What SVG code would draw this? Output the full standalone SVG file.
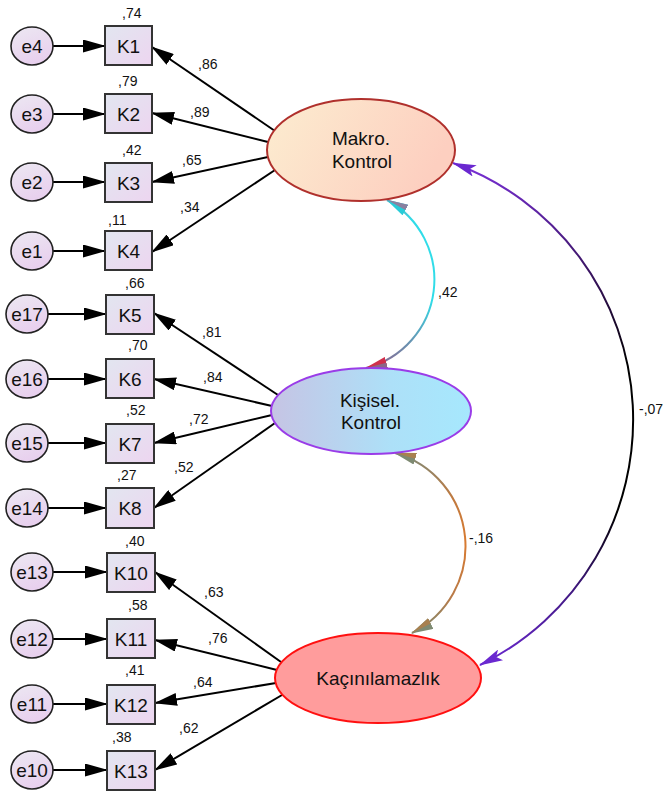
<svg xmlns="http://www.w3.org/2000/svg" width="665" height="794" viewBox="0 0 665 794">
<style>
text{font-family:"Liberation Sans",Arial,sans-serif;fill:#111}
.lbl{font-size:19px;text-anchor:middle}
.num{font-size:14px}
.box{fill:url(#gBox);stroke:#333;stroke-width:2}
.err{fill:url(#gErr);stroke:#222;stroke-width:1.6}
.ln{stroke:#000;stroke-width:2;fill:none;marker-end:url(#aBlk)}
.eln{stroke:#000;stroke-width:1.8;fill:none;marker-end:url(#aBlk)}
.cov{fill:none;stroke-width:2}
</style>
<defs>
<linearGradient id="gBox" x1="0" y1="0" x2="1" y2="1"><stop offset="0" stop-color="#e2e6f0"/><stop offset="1" stop-color="#edd5f0"/></linearGradient>
<linearGradient id="gErr" x1="0" y1="0" x2="0.4" y2="1"><stop offset="0" stop-color="#ece8f2"/><stop offset="1" stop-color="#e8d0ee"/></linearGradient>
<linearGradient id="gMak" x1="0" y1="0" x2="1" y2="0.3"><stop offset="0" stop-color="#fcedd0"/><stop offset="1" stop-color="#fdcfc0"/></linearGradient>
<linearGradient id="gKis" x1="0" y1="0" x2="1" y2="0"><stop offset="0" stop-color="#c6c4e4"/><stop offset="0.6" stop-color="#ade0f8"/><stop offset="1" stop-color="#a6e8fd"/></linearGradient>
<linearGradient id="g42" gradientUnits="userSpaceOnUse" x1="0" y1="200" x2="0" y2="368"><stop offset="0" stop-color="#6aa6b8"/><stop offset="0.12" stop-color="#30dce8"/><stop offset="0.6" stop-color="#30dce8"/><stop offset="1" stop-color="#8a6690"/></linearGradient>
<linearGradient id="g16" gradientUnits="userSpaceOnUse" x1="0" y1="453" x2="0" y2="633"><stop offset="0" stop-color="#7e8a78"/><stop offset="0.25" stop-color="#c07a40"/><stop offset="0.5" stop-color="#d87a30"/><stop offset="0.8" stop-color="#b87a48"/><stop offset="1" stop-color="#7e8a70"/></linearGradient>
<linearGradient id="g07" gradientUnits="userSpaceOnUse" x1="0" y1="163" x2="0" y2="665"><stop offset="0" stop-color="#7a30d8"/><stop offset="0.25" stop-color="#301050"/><stop offset="0.4" stop-color="#000"/><stop offset="0.7" stop-color="#000"/><stop offset="0.85" stop-color="#401880"/><stop offset="1" stop-color="#6a28d0"/></linearGradient>
<marker id="aBlk" markerUnits="userSpaceOnUse" markerWidth="23" markerHeight="13" viewBox="0 0 23 13" refX="22" refY="6.5" orient="auto"><path d="M0,0 L23,6.5 L0,13 z" fill="#000"/></marker>
<marker id="aPur" markerUnits="userSpaceOnUse" markerWidth="24" markerHeight="12" viewBox="0 0 24 12" refX="23" refY="6" orient="auto-start-reverse"><path d="M0,0 L24,6 L0,12 L5,6 z" fill="#6a28d0"/></marker>
<marker id="aCyan" markerUnits="userSpaceOnUse" markerWidth="22" markerHeight="12" viewBox="0 0 22 12" refX="21" refY="6" orient="auto-start-reverse"><path d="M0,0 L22,6 L0,12 z" fill="#28ccd8"/><path d="M0,12 L22,6 L0,6 z" fill="#8a80a0"/></marker>
<marker id="aRed" markerUnits="userSpaceOnUse" markerWidth="22" markerHeight="12" viewBox="0 0 22 12" refX="21" refY="6" orient="auto-start-reverse"><path d="M0,0 L22,6 L0,12 z" fill="#d0304c"/><path d="M0,0 L22,6 L0,6 z" fill="#8a6888"/></marker>
<marker id="aGrn" markerUnits="userSpaceOnUse" markerWidth="22" markerHeight="12" viewBox="0 0 22 12" refX="21" refY="6" orient="auto-start-reverse"><path d="M0,0 L22,6 L0,12 z" fill="#7e8a72"/><path d="M0,6 L22,6 L0,12 z" fill="#a88050"/></marker>
</defs>
<rect width="665" height="794" fill="#fff"/>

<g id="connectors">
<!-- error arrows -->
<line class="eln" x1="53" y1="46" x2="105" y2="46"/>
<line class="eln" x1="53" y1="114" x2="105" y2="114"/>
<line class="eln" x1="53" y1="182" x2="105" y2="182"/>
<line class="eln" x1="53" y1="251" x2="105" y2="251"/>
<line class="eln" x1="48" y1="314" x2="106" y2="314"/>
<line class="eln" x1="48" y1="379" x2="106" y2="379"/>
<line class="eln" x1="48" y1="443" x2="106" y2="443"/>
<line class="eln" x1="48" y1="508" x2="106" y2="508"/>
<line class="eln" x1="53" y1="572" x2="107" y2="572"/>
<line class="eln" x1="53" y1="639" x2="107" y2="639"/>
<line class="eln" x1="53" y1="704" x2="107" y2="704"/>
<line class="eln" x1="53" y1="770" x2="107" y2="770"/>
<!-- loadings -->
<line class="ln" x1="275" y1="131" x2="152" y2="47"/>
<line class="ln" x1="268" y1="142" x2="152" y2="113"/>
<line class="ln" x1="268" y1="157" x2="152" y2="182"/>
<line class="ln" x1="275" y1="170" x2="152" y2="252"/>
<line class="ln" x1="278" y1="395" x2="154" y2="313"/>
<line class="ln" x1="272" y1="406" x2="154" y2="379"/>
<line class="ln" x1="272" y1="415" x2="154" y2="443"/>
<line class="ln" x1="275" y1="423" x2="154" y2="508"/>
<line class="ln" x1="281" y1="662" x2="155" y2="572"/>
<line class="ln" x1="277" y1="670" x2="155" y2="640"/>
<line class="ln" x1="276" y1="683" x2="155" y2="703"/>
<line class="ln" x1="282" y1="695" x2="155" y2="770"/>
<!-- covariances -->
<path class="cov" d="M387,200 A91,91 0 0 1 366,368" stroke="url(#g42)" marker-start="url(#aCyan)" marker-end="url(#aRed)"/>
<path class="cov" d="M395,453 A97,97 0 0 1 412,633" stroke="url(#g16)" marker-start="url(#aGrn)" marker-end="url(#aGrn)"/>
<path class="cov" d="M453,163 A273,273 0 0 1 480,665" stroke="url(#g07)" marker-start="url(#aPur)" marker-end="url(#aPur)"/>
<!-- loading labels -->
<text class="num" x="198" y="69">,86</text>
<text class="num" x="190" y="117">,89</text>
<text class="num" x="182" y="165">,65</text>
<text class="num" x="180" y="212">,34</text>
<text class="num" x="202" y="337">,81</text>
<text class="num" x="203" y="382">,84</text>
<text class="num" x="189" y="424">,72</text>
<text class="num" x="174" y="472">,52</text>
<text class="num" x="204" y="597">,63</text>
<text class="num" x="208" y="643">,76</text>
<text class="num" x="193" y="687">,64</text>
<text class="num" x="179" y="733">,62</text>
<text class="num" x="438" y="297">,42</text>
<text class="num" x="469" y="543">-,16</text>
<text class="num" x="639" y="414">-,07</text>
</g>

<g id="e4"><ellipse class="err" cx="32" cy="46" rx="21" ry="19"/><text class="lbl" x="32" y="53">e4</text></g>
<g id="e3"><ellipse class="err" cx="32" cy="114" rx="21" ry="19"/><text class="lbl" x="32" y="121">e3</text></g>
<g id="e2"><ellipse class="err" cx="32" cy="182" rx="21" ry="19"/><text class="lbl" x="32" y="189">e2</text></g>
<g id="e1"><ellipse class="err" cx="32" cy="251" rx="21" ry="19"/><text class="lbl" x="32" y="258">e1</text></g>
<g id="e17"><ellipse class="err" cx="27" cy="314" rx="21" ry="19"/><text class="lbl" x="27" y="321">e17</text></g>
<g id="e16"><ellipse class="err" cx="27" cy="379" rx="21" ry="19"/><text class="lbl" x="27" y="386">e16</text></g>
<g id="e15"><ellipse class="err" cx="27" cy="443" rx="21" ry="19"/><text class="lbl" x="27" y="450">e15</text></g>
<g id="e14"><ellipse class="err" cx="27" cy="508" rx="21" ry="19"/><text class="lbl" x="27" y="515">e14</text></g>
<g id="e13"><ellipse class="err" cx="32" cy="572" rx="21" ry="19"/><text class="lbl" x="32" y="579">e13</text></g>
<g id="e12"><ellipse class="err" cx="32" cy="639" rx="21" ry="19"/><text class="lbl" x="32" y="646">e12</text></g>
<g id="e11"><ellipse class="err" cx="32" cy="704" rx="21" ry="19"/><text class="lbl" x="32" y="711">e11</text></g>
<g id="e10"><ellipse class="err" cx="32" cy="770" rx="21" ry="19"/><text class="lbl" x="32" y="777">e10</text></g>

<g id="K1"><rect class="box" x="105" y="26" width="47" height="39"/><text class="lbl" x="128.5" y="52.5">K1</text><text class="num" x="122" y="18">,74</text></g>
<g id="K2"><rect class="box" x="105" y="94" width="47" height="39"/><text class="lbl" x="128.5" y="120.5">K2</text><text class="num" x="118" y="86">,79</text></g>
<g id="K3"><rect class="box" x="105" y="163" width="47" height="39"/><text class="lbl" x="128.5" y="189.5">K3</text><text class="num" x="122" y="155">,42</text></g>
<g id="K4"><rect class="box" x="105" y="231" width="47" height="39"/><text class="lbl" x="128.5" y="257.5">K4</text><text class="num" x="108" y="225">,11</text></g>
<g id="K5"><rect class="box" x="106" y="295" width="48" height="39"/><text class="lbl" x="130" y="321.5">K5</text><text class="num" x="125" y="288">,66</text></g>
<g id="K6"><rect class="box" x="106" y="359" width="48" height="39"/><text class="lbl" x="130" y="385.5">K6</text><text class="num" x="128" y="350">,70</text></g>
<g id="K7"><rect class="box" x="106" y="424" width="48" height="39"/><text class="lbl" x="130" y="450.5">K7</text><text class="num" x="126" y="415">,52</text></g>
<g id="K8"><rect class="box" x="106" y="488" width="48" height="40"/><text class="lbl" x="130" y="515">K8</text><text class="num" x="117" y="480">,27</text></g>
<g id="K10"><rect class="box" x="107" y="553" width="48" height="39"/><text class="lbl" x="131" y="579.5">K10</text><text class="num" x="125" y="546">,40</text></g>
<g id="K11"><rect class="box" x="107" y="619" width="48" height="39"/><text class="lbl" x="131" y="645.5">K11</text><text class="num" x="128" y="610">,58</text></g>
<g id="K12"><rect class="box" x="107" y="685" width="48" height="39"/><text class="lbl" x="131" y="711.5">K12</text><text class="num" x="125" y="675">,41</text></g>
<g id="K13"><rect class="box" x="107" y="751" width="48" height="39"/><text class="lbl" x="131" y="777.5">K13</text><text class="num" x="112" y="742">,38</text></g>

<g id="Makro"><ellipse cx="361" cy="150" rx="94" ry="51" fill="url(#gMak)" stroke="#b0302c" stroke-width="2"/><text class="lbl" x="361" y="145">Makro.</text><text class="lbl" x="362" y="168">Kontrol</text></g>
<g id="Kisisel"><ellipse cx="371" cy="411" rx="100" ry="43" fill="url(#gKis)" stroke="#9a3ce8" stroke-width="2"/><text class="lbl" x="370" y="407">Kişisel.</text><text class="lbl" x="371" y="429">Kontrol</text></g>
<g id="Kacinilamazlik"><ellipse cx="378" cy="678" rx="103" ry="45" fill="#ff9c9c" stroke="#ff1010" stroke-width="2"/><text class="lbl" x="378" y="685">Kaçınılamazlık</text></g>
</svg>
